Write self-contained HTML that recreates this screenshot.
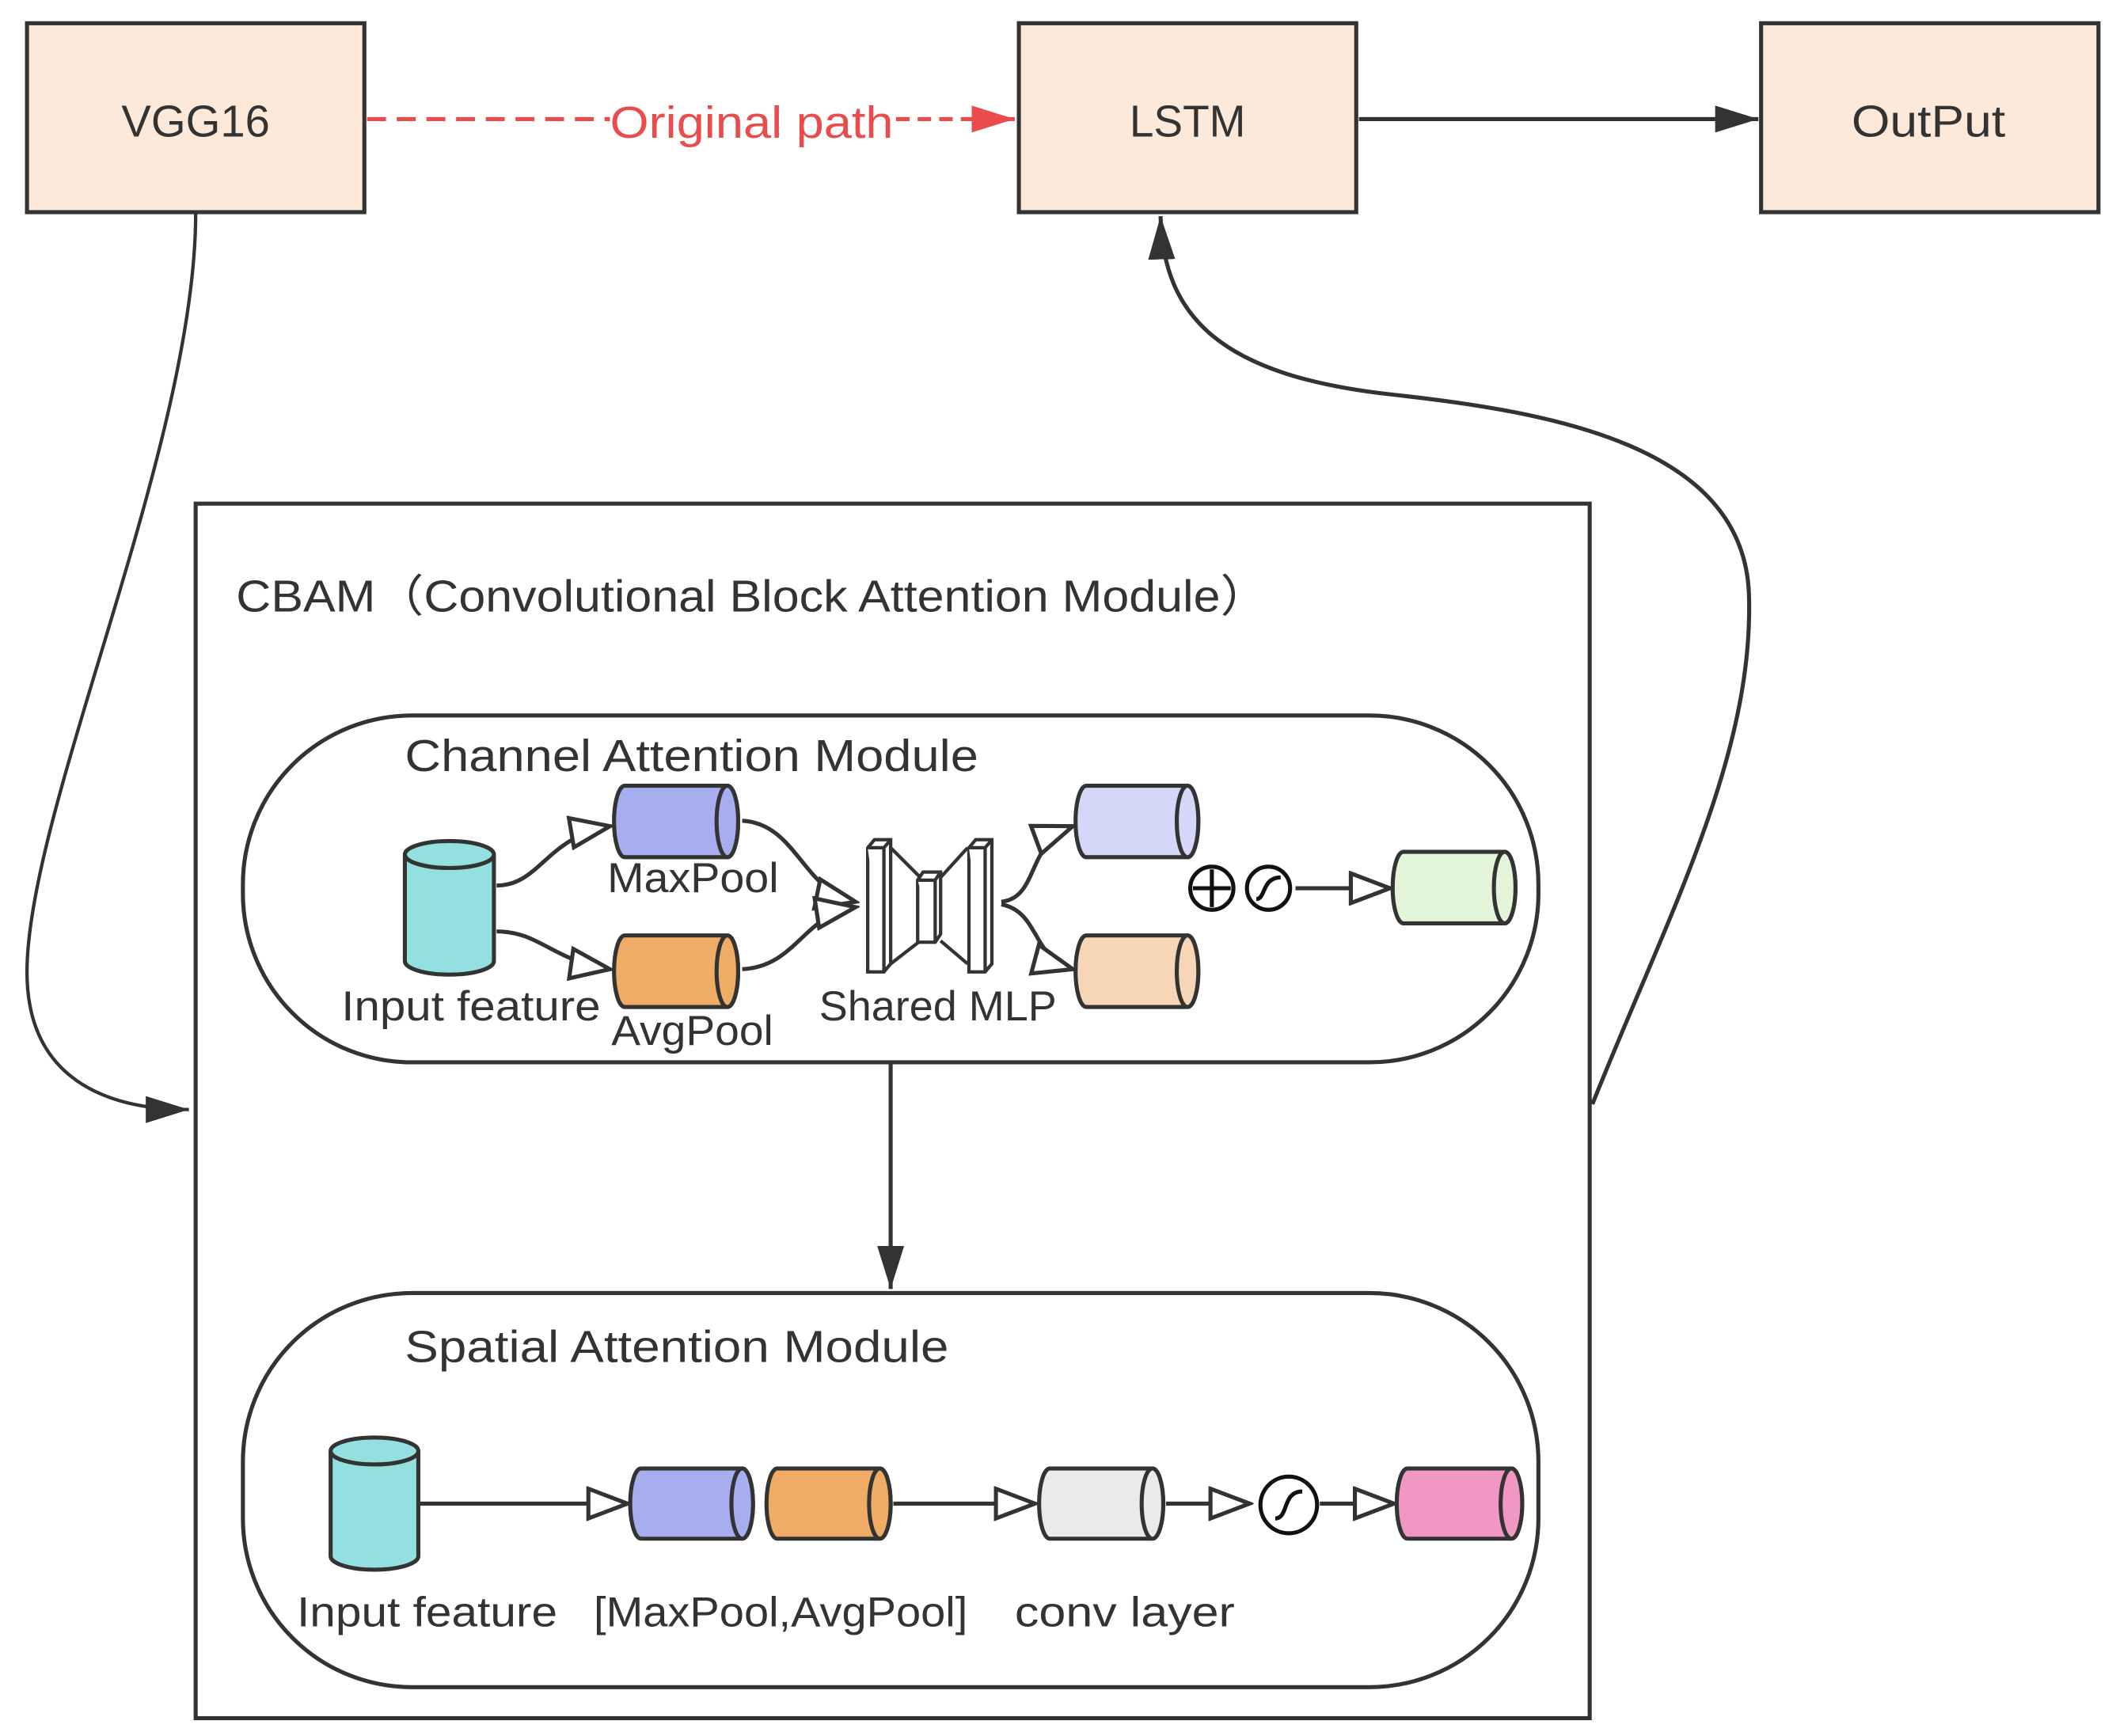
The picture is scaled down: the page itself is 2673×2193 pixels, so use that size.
<!DOCTYPE html>
<html><head><meta charset="utf-8"><style>html,body{margin:0;padding:0;background:#fff}svg{display:block}text{font-family:"Liberation Sans","Noto Sans CJK SC",sans-serif;fill:#333}</style></head>
<body>
<svg width="2673" height="2193" viewBox="0 0 1568 1286" xmlns="http://www.w3.org/2000/svg">
<defs>
<marker id="ah" markerUnits="userSpaceOnUse" markerWidth="34" markerHeight="24" refX="32" refY="12" orient="auto"><path d="M0,2 L32,12 L0,22 Z" fill="#333"/></marker>
<marker id="ahr" markerUnits="userSpaceOnUse" markerWidth="34" markerHeight="24" refX="32" refY="12" orient="auto"><path d="M0,2 L32,12 L0,22 Z" fill="#e84c4c"/></marker>
<marker id="ot" markerUnits="userSpaceOnUse" markerWidth="34" markerHeight="26" refX="31" refY="13" orient="auto"><path d="M2,2 L31,13 L2,24 Z" fill="#fff" stroke="#333" stroke-width="3" stroke-linejoin="miter"/></marker>
</defs>
<g stroke="#333" stroke-width="3" fill="#fce9d9">
<rect x="20" y="17" width="250" height="140"/>
<rect x="755" y="17" width="250" height="140"/>
<rect x="1305" y="17" width="250" height="140"/>
</g>
<text x="90" y="101" font-size="33" textLength="110" lengthAdjust="spacingAndGlyphs">VGG16</text>
<text x="837" y="101" font-size="33" textLength="86" lengthAdjust="spacingAndGlyphs">LSTM</text>
<text x="1372" y="101" font-size="33" textLength="114" lengthAdjust="spacingAndGlyphs">OutPut</text>
<line x1="272" y1="88" x2="452" y2="88" stroke="#e84c4c" stroke-width="3" stroke-dasharray="14,8"/>
<line x1="664" y1="88" x2="752" y2="88" stroke="#e84c4c" stroke-width="3" stroke-dasharray="10,6" marker-end="url(#ahr)"/>
<text x="452" y="102" font-size="33" textLength="210" lengthAdjust="spacingAndGlyphs" style="fill:#e84c4c">Original path</text>
<line x1="1007" y1="88" x2="1303" y2="88" stroke="#333" stroke-width="3" marker-end="url(#ah)"/>
<path d="M145,158 C145,330 20,600 20,720 C20,800 80,822 140,822" fill="none" stroke="#333" stroke-width="2.5" marker-end="url(#ah)"/>
<path d="M1180,818 C1235,680 1300,560 1296,440 C1292,330 1150,305 1030,292 C905,278 862,235 860,160" fill="none" stroke="#333" stroke-width="3" marker-end="url(#ah)"/>
<rect x="145" y="373" width="1033" height="900" fill="none" stroke="#333" stroke-width="3"/>
<text x="175" y="453" font-size="33" textLength="765" lengthAdjust="spacingAndGlyphs">CBAM（Convolutional Block Attention Module）</text>
<rect x="180" y="530" width="960" height="257" rx="125" ry="125" fill="none" stroke="#333" stroke-width="3"/>
<text x="300" y="571" font-size="33" textLength="425" lengthAdjust="spacingAndGlyphs">Channel Attention Module</text>
<g stroke="#333" stroke-width="3">
<path d="M300,633 L300,712 A33,10 0 0 0 366,712 L366,633" fill="#94e0e0"/>
<ellipse cx="333" cy="633" rx="33" ry="10" fill="#94e0e0"/>
</g>
<text x="253" y="756" font-size="31" textLength="192" lengthAdjust="spacingAndGlyphs">Input feature</text>
<g stroke="#333" stroke-width="3">
<path d="M463,582 L539,582 A8,26.5 0 0 1 539,635 L463,635 A8,26.5 0 0 1 463,582 Z" fill="#a7aef0"/><ellipse cx="539" cy="608.5" rx="8" ry="26.5" fill="#a7aef0"/>
<path d="M463,693 L539,693 A8,26.5 0 0 1 539,746 L463,746 A8,26.5 0 0 1 463,693 Z" fill="#f0ab66"/><ellipse cx="539" cy="719.5" rx="8" ry="26.5" fill="#f0ab66"/>
<path d="M805,582 L880,582 A8,26.5 0 0 1 880,635 L805,635 A8,26.5 0 0 1 805,582 Z" fill="#d4d7f7"/><ellipse cx="880" cy="608.5" rx="8" ry="26.5" fill="#d4d7f7"/>
<path d="M805,693 L880,693 A8,26.5 0 0 1 880,746 L805,746 A8,26.5 0 0 1 805,693 Z" fill="#f7d5b7"/><ellipse cx="880" cy="719.5" rx="8" ry="26.5" fill="#f7d5b7"/>
<path d="M1040,631 L1115,631 A8,26.5 0 0 1 1115,684 L1040,684 A8,26.5 0 0 1 1040,631 Z" fill="#e3f5d9"/><ellipse cx="1115" cy="657.5" rx="8" ry="26.5" fill="#e3f5d9"/>
</g>
<text x="450" y="661" font-size="31" textLength="127" lengthAdjust="spacingAndGlyphs">MaxPool</text>
<text x="453" y="774" font-size="31" textLength="120" lengthAdjust="spacingAndGlyphs">AvgPool</text>
<g fill="none" stroke="#333" stroke-width="3">
<path d="M368,656 C400,656 405,620 452,612" marker-end="url(#ot)"/>
<path d="M368,690 C400,690 410,712 452,718" marker-end="url(#ot)"/>
<path d="M550,608 C590,610 595,660 634,668" marker-end="url(#ot)"/>
<path d="M550,718 C590,716 595,678 634,672" marker-end="url(#ot)"/>
<path d="M742,668 C770,665 760,625 795,612" marker-end="url(#ot)"/>
<path d="M742,670 C770,675 765,710 795,718" marker-end="url(#ot)"/>
<line x1="960" y1="658" x2="1030" y2="658" marker-end="url(#ot)"/>
</g>
<g stroke="#333" stroke-width="2.5" fill="#fff">
<path d="M660,628 L682,650 M660,714 L682,697 M717,628 L697,650 M717,714 L697,697" fill="none"/>
<path d="M643,628 L648,622 L660,622 L660,714 L655,720 L643,720 Z"/>
<path d="M643,628 L655,628 L655,720 M655,628 L660,622"/>
<path d="M718,628 L723,622 L735,622 L735,714 L730,720 L718,720 Z"/>
<path d="M718,628 L730,628 L730,720 M730,628 L735,622"/>
<path d="M680,652 L684,646 L697,646 L697,692 L693,698 L680,698 Z"/>
<path d="M680,652 L693,652 L693,698 M693,652 L697,646"/>
</g>
<text x="607" y="756" font-size="31" textLength="176" lengthAdjust="spacingAndGlyphs">Shared MLP</text>
<g stroke="#111" stroke-width="3" fill="#fff">
<circle cx="898" cy="658" r="16"/><path d="M898,644 V672 M884,658 H912" fill="none"/>
<circle cx="940" cy="658" r="16"/><path d="M931,666 C938,666 935,650 949,650" fill="none"/>
</g>
<line x1="660" y1="788" x2="660" y2="955" stroke="#333" stroke-width="3" marker-end="url(#ah)"/>
<rect x="180" y="958" width="960" height="292" rx="125" ry="125" fill="none" stroke="#333" stroke-width="3"/>
<text x="300" y="1009" font-size="33" textLength="403" lengthAdjust="spacingAndGlyphs">Spatial Attention Module</text>
<g stroke="#333" stroke-width="3">
<path d="M245,1075 L245,1153 A32.5,10 0 0 0 310,1153 L310,1075" fill="#94e0e0"/>
<ellipse cx="277.5" cy="1075" rx="32.5" ry="10" fill="#94e0e0"/>
<path d="M475,1088 L550,1088 A8,26 0 0 1 550,1140 L475,1140 A8,26 0 0 1 475,1088 Z" fill="#a7aef0"/><ellipse cx="550" cy="1114" rx="8" ry="26" fill="#a7aef0"/>
<path d="M576,1088 L652,1088 A8,26 0 0 1 652,1140 L576,1140 A8,26 0 0 1 576,1088 Z" fill="#f0ab66"/><ellipse cx="652" cy="1114" rx="8" ry="26" fill="#f0ab66"/>
<path d="M778,1088 L854,1088 A8,26 0 0 1 854,1140 L778,1140 A8,26 0 0 1 778,1088 Z" fill="#e8eaec"/><ellipse cx="854" cy="1114" rx="8" ry="26" fill="#e8eaec"/>
<path d="M1043,1088 L1120,1088 A8,26 0 0 1 1120,1140 L1043,1140 A8,26 0 0 1 1043,1088 Z" fill="#f097c4"/><ellipse cx="1120" cy="1114" rx="8" ry="26" fill="#f097c4"/>
</g>
<g fill="none" stroke="#333" stroke-width="3">
<line x1="311" y1="1114" x2="465" y2="1114" marker-end="url(#ot)"/>
<line x1="662" y1="1114" x2="767" y2="1114" marker-end="url(#ot)"/>
<line x1="864" y1="1114" x2="926" y2="1114" marker-end="url(#ot)"/>
<line x1="978" y1="1114" x2="1033" y2="1114" marker-end="url(#ot)"/>
</g>
<g stroke="#111" stroke-width="3" fill="#fff">
<circle cx="955" cy="1115" r="21"/><path d="M945,1125 C955,1125 950,1105 965,1105" fill="none"/>
</g>
<text x="220" y="1205" font-size="31" textLength="193" lengthAdjust="spacingAndGlyphs">Input feature</text>
<text x="440" y="1205" font-size="31" textLength="277" lengthAdjust="spacingAndGlyphs">[MaxPool,AvgPool]</text>
<text x="752" y="1205" font-size="31" textLength="163" lengthAdjust="spacingAndGlyphs">conv layer</text>
</svg>
</body></html>
